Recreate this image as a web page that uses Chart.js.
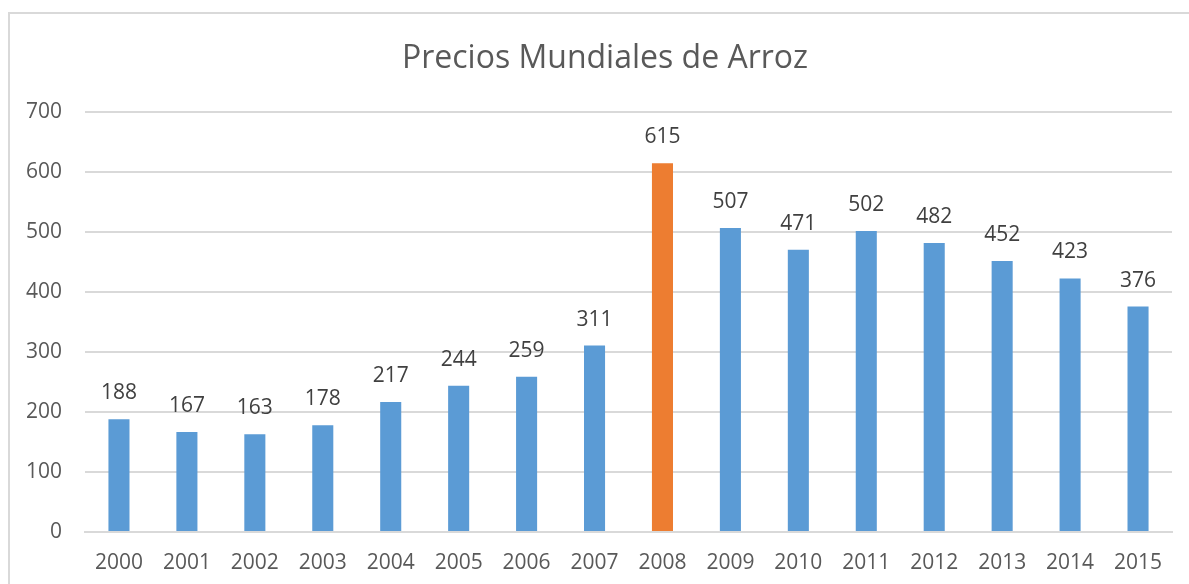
<!DOCTYPE html>
<html>
<head>
<meta charset="utf-8">
<script src="https://cdn.jsdelivr.net/npm/chart.js@4/dist/chart.umd.min.js"></script>
<style>
  html,body{margin:0;padding:0;background:#fff;overflow:hidden;}
  #box{position:absolute;left:8px;top:12px;width:1200px;height:600px;border:2px solid #d9d9d9;}
  #wrap{position:absolute;left:10px;top:14px;width:1190px;height:570px;}
</style>
</head>
<body>
<div id="box"></div>
<div id="wrap"><canvas id="c"></canvas></div>
<script>
const years = ['2000','2001','2002','2003','2004','2005','2006','2007','2008','2009','2010','2011','2012','2013','2014','2015'];
const prices = [188,167,163,178,217,244,259,311,615,507,471,502,482,452,423,376];
const highlightYear = '2008';
const yTicks = [0,100,200,300,400,500,600,700];

const FONT = '"Open Sans", "Noto Sans", sans-serif';

// valores encima de cada barra
const barLabels = {
  id:'barLabels',
  afterDatasetsDraw(chart){
    const ctx = chart.ctx;
    const meta = chart.getDatasetMeta(0);
    ctx.save();
    ctx.font = '21px ' + FONT;
    ctx.fillStyle = '#404040';
    ctx.textAlign = 'center';
    ctx.textBaseline = 'middle';
    meta.data.forEach((bar,i)=>{
      ctx.fillText(String(prices[i]), bar.x, bar.y - 26);
    });
    ctx.restore();
  }
};

new Chart(document.getElementById('c'), {
  type:'bar',
  data:{
    labels: years,
    datasets:[{
      data: prices,
      backgroundColor: years.map(y => y===highlightYear ? '#ED7D31' : '#5B9BD5'),
      barPercentage: 0.31,
      categoryPercentage: 1
    }]
  },
  options:{
    responsive:true,
    maintainAspectRatio:false,
    animation:false,
    layout:{padding:0},
    plugins:{
      legend:{display:false},
      tooltip:{enabled:false},
      title:{
        display:true,
        text:'Precios Mundiales de Arroz',
        color:'#595959',
        font:{family:FONT, size:32, weight:'normal'},
        padding:{top:26,bottom:34}
      }
    },
    scales:{
      x:{
        grid:{display:false, drawTicks:false},
        border:{color:'#d9d9d9', width:2},
        ticks:{color:'#595959', font:{family:FONT,size:21}, padding:18, maxRotation:0},
        afterFit(s){ s.height = 52; }
      },
      y:{
        min:0, max:700,
        afterBuildTicks(s){ s.ticks = yTicks.map(v=>({value:v})); },
        grid:{color:'#d9d9d9', lineWidth:2, drawTicks:false},
        border:{display:false},
        ticks:{color:'#595959', font:{family:FONT,size:21}, padding:23},
        afterFit(s){ s.width = 75; }
      },
      // eje vacío para dejar margen a la derecha
      yr:{
        position:'right',
        grid:{display:false},
        border:{display:false},
        ticks:{display:false},
        afterFit(s){ s.width = 28; }
      }
    }
  },
  plugins:[barLabels]
});
</script>
</body>
</html>
